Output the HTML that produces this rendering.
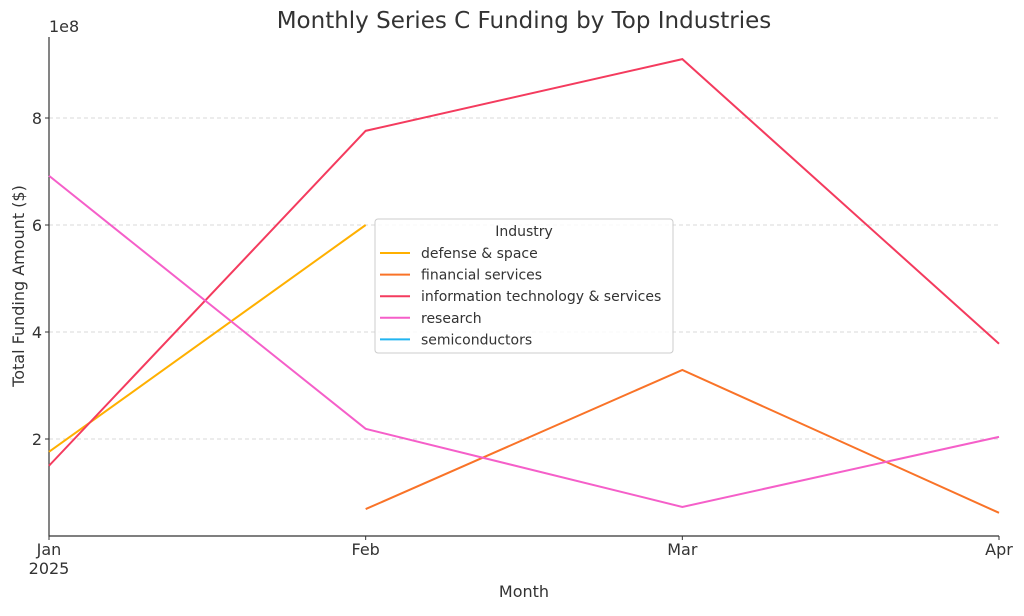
<!DOCTYPE html>
<html><head><meta charset="utf-8"><style>
body{margin:0;background:#fff;font-family:"Liberation Sans","DejaVu Sans",sans-serif;}
svg text{font-family:"DejaVu Sans","Liberation Sans",sans-serif;fill:#333;}
</style></head><body>
<svg id="chart" width="1024" height="611" xmlns="http://www.w3.org/2000/svg">
<text x="524" y="28" text-anchor="middle" font-size="23">Monthly Series C Funding by Top Industries</text>
<g id="grid"></g><g id="axes"></g><g id="lines"></g><g id="legend"></g>
<text x="524" y="597" text-anchor="middle" font-size="16">Month</text>
<text transform="translate(24,286) rotate(-90)" text-anchor="middle" font-size="16">Total Funding Amount ($)</text>
<text x="49" y="32" font-size="16">1e8</text>
</svg>
<script>
const months = ["Jan","Feb","Mar","Apr"];
const yTicks = [2,4,6,8];
const seriesNames = ["defense & space","financial services","information technology & services","research","semiconductors"];
const seriesColors = ["#ffb000","#f97328","#f43b5e","#f55fc9","#22b5f0"];
const defenseSpace = [1.76,6.0,null,null];
const financialServices = [null,0.69,3.29,0.62];
const infoTech = [1.5,7.76,9.1,3.78];
const research = [6.92,2.19,0.73,2.04];
const semiconductors = [null,null,null,null];
const allSeries = [defenseSpace,financialServices,infoTech,research,semiconductors];

const NS="http://www.w3.org/2000/svg";
const L=49,R=999,T=37,B=536;
const xS=i=>L+i*(R-L)/(months.length-1);
const yS=v=>546-v*53.5;
function mk(tag,attrs,parent){const e=document.createElementNS(NS,tag);for(const k in attrs)e.setAttribute(k,attrs[k]);parent.appendChild(e);return e;}
const grid=document.getElementById('grid'),axes=document.getElementById('axes'),lines=document.getElementById('lines'),leg=document.getElementById('legend');
yTicks.forEach(t=>{
 const g=mk('line',{x1:L,x2:R,y1:yS(t),y2:yS(t),stroke:'#ccc','stroke-dasharray':'4,3','stroke-width':0.8},grid);
 
 
 const tk=mk('line',{x1:L-4,x2:L,y1:yS(t),y2:yS(t),stroke:'#333'},axes);
 
 
 const tx=mk('text',{x:L-7,y:yS(t)+6,'text-anchor':'end','font-size':16},axes);
 tx.textContent=t;
 
 
});
const ax=mk('path',{d:`M${L},${T} V${B} H${R}`,fill:'none',stroke:'#333','stroke-width':1.2},axes);


months.forEach((m,i)=>{
 const tk=mk('line',{x1:xS(i),x2:xS(i),y1:B,y2:B+4,stroke:'#333'},axes);
 
 
 const tx=mk('text',{x:xS(i),y:B+19,'text-anchor':'middle','font-size':16},axes);
 tx.textContent=m;
 
 
});
const yr=mk('text',{x:xS(0),y:B+38,'text-anchor':'middle','font-size':16},axes);
yr.textContent="2025";


allSeries.forEach((s,k)=>{
 let d='',pen=false;
 s.forEach((v,i)=>{if(v==null){pen=false;return;}d+=(pen?'L':'M')+xS(i)+','+yS(v)+' ';pen=true;});
 if(!d)return;
 const p=mk('path',{d:d,fill:'none',stroke:seriesColors[k],'stroke-width':2},lines);
 
 
});
const lb=mk('rect',{x:375,y:219,width:298,height:134,rx:3,fill:'#fff','fill-opacity':0.85,stroke:'#ccc'},leg);


const lt=mk('text',{x:524,y:236,'text-anchor':'middle','font-size':14},leg);
lt.textContent="Industry";


seriesNames.forEach((n,k)=>{
 const y=253+k*21.6;
 const ln=mk('line',{x1:380,x2:410,y1:y,y2:y,stroke:seriesColors[k],'stroke-width':2},leg);
 
 
 const tx=mk('text',{x:421,y:y+5,'font-size':14},leg);
 tx.textContent=n;
 
 
});
</script>
</body></html>
